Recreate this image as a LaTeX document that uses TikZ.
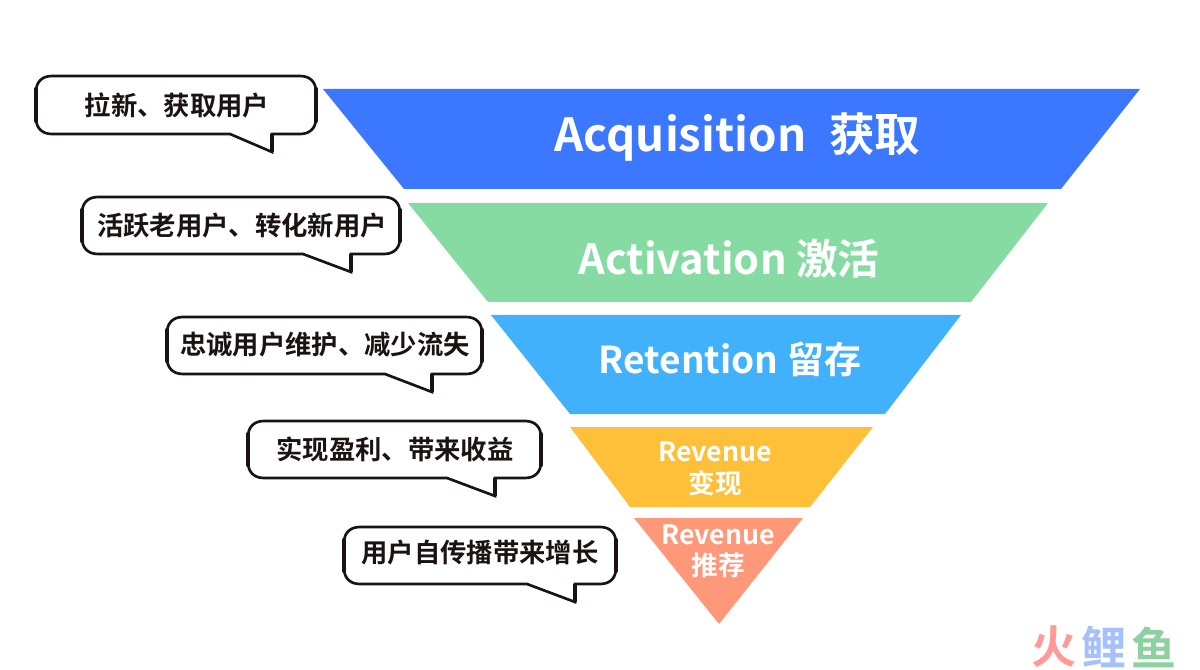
\documentclass[tikz,border=0pt]{standalone}
\usepackage{fontspec}
\setmainfont{Noto Sans CJK SC Bold}[BoldFont={Noto Sans CJK SC Bold}]
\newcommand{\pxfont}[1]{\fontsize{#1}{#1}\selectfont}
\definecolor{cblue}{HTML}{3B78FF}
\definecolor{cgreen}{HTML}{86DBA2}
\definecolor{csky}{HTML}{42B1FB}
\definecolor{cyellow}{HTML}{FFC039}
\definecolor{corange}{HTML}{FF9878}
\definecolor{cink}{HTML}{1A1311}
\definecolor{logored}{HTML}{FF9A9A}
\definecolor{logoblue}{HTML}{A5C0FA}
\definecolor{logogreen}{HTML}{8FD0A0}
\tikzset{
  x=0.6pt,y=-0.6pt,
  band/.style={fill=#1,draw=none},
  bandtext/.style={text=white,inner sep=0pt,align=center},
  bubble/.style={draw=cink,line width=1.6pt,fill=white,line join=miter},
  bubbleside/.style={draw=cink,line width=2.6pt,line cap=round},
  bubbletext/.style={text=cink,inner sep=0pt},
  logotext/.style={inner sep=0pt,font=\pxfont{27}},
}
\newcommand{\callout}[7]{% left,top,right,bottom,tail start,tail tip x,tail tip y
  \draw[bubble] (#5,#4) -- ({#1+16},#4)
    .. controls ({#1+6},#4) and (#1,{#4-6}) .. (#1,{#4-16})
    -- (#1,{#2+16})
    .. controls (#1,{#2+6}) and ({#1+6},#2) .. ({#1+16},#2)
    -- ({#3-16},#2)
    .. controls ({#3-6},#2) and (#3,{#2+6}) .. (#3,{#2+16})
    -- (#3,{#4-16})
    .. controls (#3,{#4-6}) and ({#3-6},#4) .. ({#3-16},#4)
    -- (#6,#4) -- (#6,#7) -- cycle;
  \draw[bubbleside] (#1,{#2+13}) -- (#1,{#4-13});
  \draw[bubbleside] (#3,{#2+13}) -- (#3,{#4-13});
  \draw[bubbleside,line cap=butt] (#6,#4) -- (#6,#7);
}
\begin{document}
\begin{tikzpicture}
\useasboundingbox (0,0) rectangle (1200,670);
\fill[white] (0,0) rectangle (1200,670);
% funnel
\fill[band=cblue] (323,89) -- (1140,89) -- (1061,189) -- (404,189) -- cycle;
\fill[band=cgreen] (408,203) -- (1048,203) -- (971,302) -- (488,302) -- cycle;
\fill[band=csky] (491,315) -- (961,315) -- (885,414) -- (570,414) -- cycle;
\fill[band=cyellow] (570,427) -- (873,427) -- (810,507) -- (630,507) -- cycle;
\fill[band=corange] (634,518) -- (803,518) -- (719,624) -- cycle;
\node[bandtext,font=\pxfont{27.4}] (t1) at (735.5,137) {\hspace{2.5pt}Acquisition\hspace{0.5em}获取};
\node[bandtext,font=\pxfont{25}] (t2) at (729,259) {Activation 激活};
\node[bandtext,font=\pxfont{22.2}] (t3) at (730,359) {Retention 留存};
\node[bandtext,font=\pxfont{16},text height=15pt,text depth=4pt] (t4a) at (715,452) {Revenue};
\node[bandtext,font=\pxfont{16},text height=15pt,text depth=4pt] (t4b) at (715,484) {变现};
\node[bandtext,font=\pxfont{16},text height=15pt,text depth=4pt] (t5a) at (718,535) {Revenue};
\node[bandtext,font=\pxfont{16},text height=15pt,text depth=4pt] (t5b) at (718,566) {推荐};
% callouts
\callout{36}{76}{316}{134}{230}{272}{152}
\callout{82}{197}{400}{254}{303}{351}{272}
\callout{167}{317}{482}{374}{385}{432}{392}
\callout{248}{421}{541}{478}{447}{495}{496}
\callout{344}{527}{616}{584}{527}{575}{602}
\node[bubbletext,font=\pxfont{15.8}] (c1) at (177,105) {拉新、获取用户};
\node[bubbletext,font=\pxfont{15.8}] (c2) at (242,226) {活跃老用户、转化新用户};
\node[bubbletext,font=\pxfont{15.8}] (c3) at (325,345) {忠诚用户维护、减少流失};
\node[bubbletext,font=\pxfont{15.8}] (c4) at (395,449) {实现盈利、带来收益};
\node[bubbletext,font=\pxfont{15.8}] (c5) at (480,553) {用户自传播带来增长};
% logo
\node[logotext,text=logored] (l1) at (1054,647) {火};
\node[logotext,text=logoblue] (l2) at (1104,647) {鲤};
\node[logotext,text=logogreen] (l3) at (1154,647) {鱼};
\end{tikzpicture}
\end{document}
